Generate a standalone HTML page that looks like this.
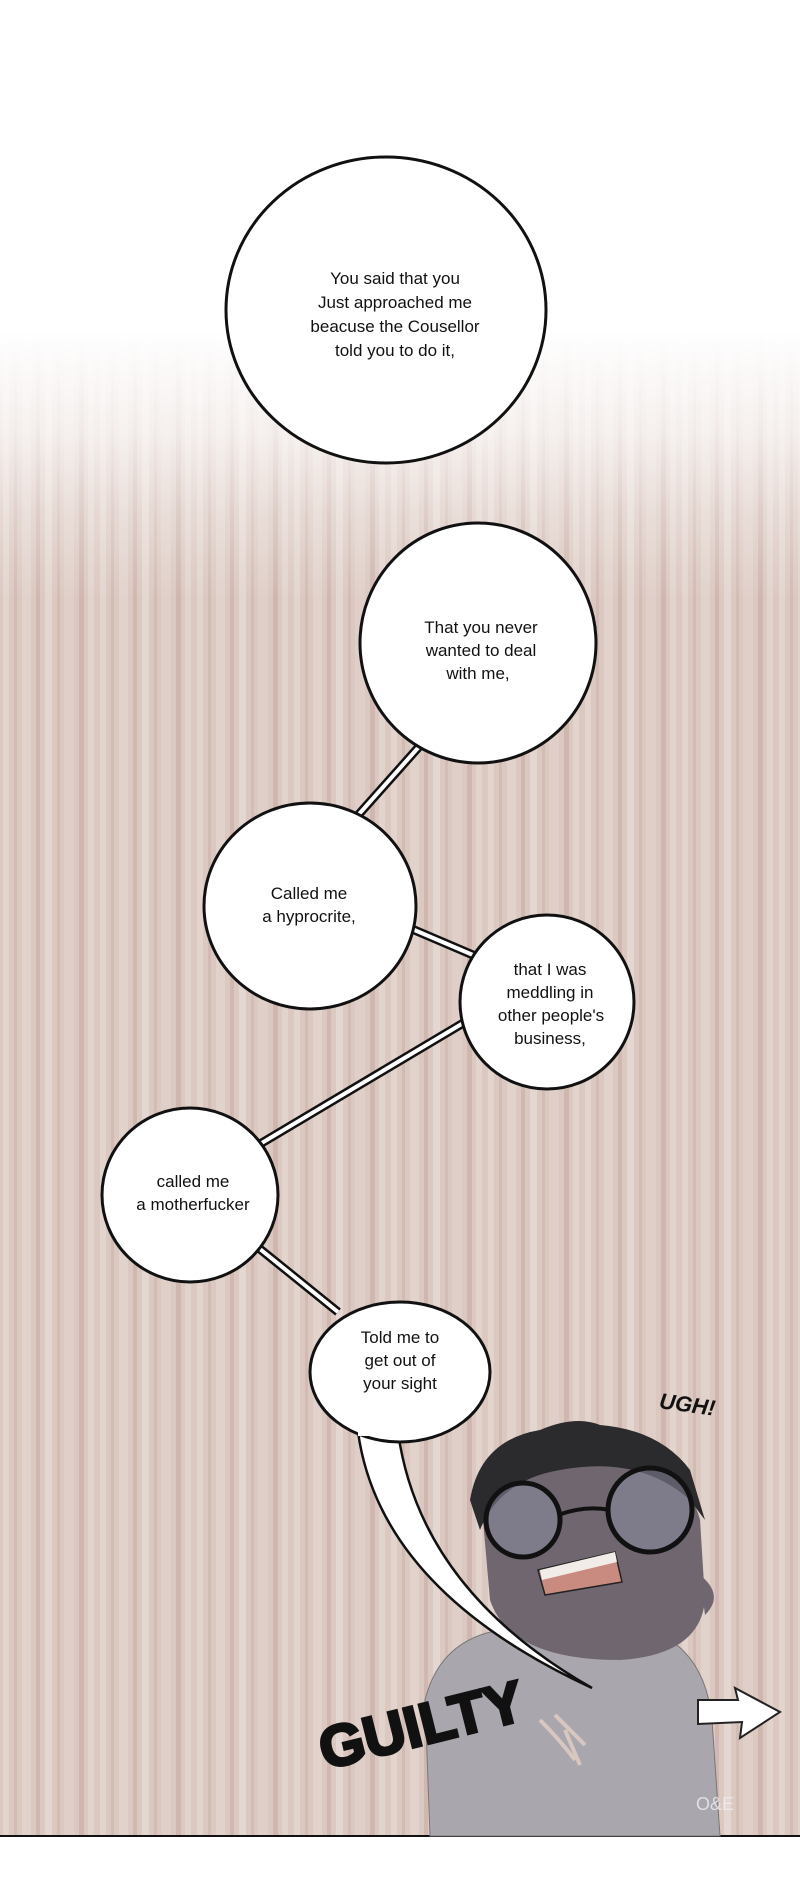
<!DOCTYPE html>
<html><head><meta charset="utf-8"><style>
html,body{margin:0;padding:0;background:#fff;}
#w{position:relative;width:800px;height:1894px;overflow:hidden;}
svg{position:absolute;left:0;top:0;}
text{font-family:"Liberation Sans",sans-serif;font-size:17px;fill:#111;text-anchor:middle;}
</style></head><body><div id="w">
<svg width="800" height="1894" viewBox="0 0 800 1894">
<defs>
<pattern id="st" width="97" height="20" patternUnits="userSpaceOnUse">
<rect width="97" height="20" fill="#dbc8c1"/>
<rect x="3" width="6" height="20" fill="#e3d4ce"/>
<rect x="14" width="3" height="20" fill="#d2bbb3"/>
<rect x="22" width="9" height="20" fill="#e1d2cb"/>
<rect x="36" width="4" height="20" fill="#d0b8b0"/>
<rect x="45" width="7" height="20" fill="#e4d6d0"/>
<rect x="57" width="3" height="20" fill="#d3bcb4"/>
<rect x="64" width="10" height="20" fill="#e0cfc8"/>
<rect x="79" width="5" height="20" fill="#cfb7af"/>
<rect x="88" width="6" height="20" fill="#e2d3cd"/>
</pattern>
<linearGradient id="fade" x1="0" y1="0" x2="0" y2="1">
<stop offset="0" stop-color="#fff" stop-opacity="1"/>
<stop offset="0.55" stop-color="#fff" stop-opacity="1"/>
<stop offset="0.72" stop-color="#fff" stop-opacity="0.7"/>
<stop offset="0.86" stop-color="#fff" stop-opacity="0.3"/>
<stop offset="1" stop-color="#fff" stop-opacity="0"/>
</linearGradient>
</defs>
<rect x="0" y="0" width="800" height="1836" fill="url(#st)"/>
<rect x="0" y="0" width="800" height="600" fill="url(#fade)"/>
<rect x="0" y="1836" width="800" height="58" fill="#fff"/>
<line x1="0" y1="1836" x2="800" y2="1836" stroke="#111" stroke-width="2"/>

<g stroke-linecap="butt">
<g stroke="#111" stroke-width="9">
<line x1="425" y1="740" x2="352" y2="822"/>
<line x1="405" y1="926" x2="480" y2="958"/>
<line x1="470" y1="1019" x2="255" y2="1147"/>
<line x1="255" y1="1245" x2="338" y2="1312"/>
</g>
<g stroke="#fff" stroke-width="4">
<line x1="425" y1="740" x2="352" y2="822"/>
<line x1="405" y1="926" x2="480" y2="958"/>
<line x1="470" y1="1019" x2="255" y2="1147"/>
<line x1="255" y1="1245" x2="338" y2="1312"/>
</g>
</g>

<path d="M430 1836 L425 1700 Q440 1640 500 1630 L650 1630 Q705 1650 712 1720 L720 1836 Z" fill="#aaa6ad" stroke="#777" stroke-width="1"/>
<path d="M483 1520 Q485 1450 560 1445 Q680 1445 700 1520 L705 1600 Q700 1655 620 1660 Q510 1660 490 1600 Z" fill="#6f6670"/>
<path d="M470 1500 Q480 1440 540 1430 Q575 1415 600 1425 Q660 1430 690 1470 L705 1520 L690 1500 Q640 1455 560 1470 Q500 1480 480 1530 Z" fill="#2b2a2c"/>
<circle cx="523" cy="1520" r="37" fill="#8e8fa6" fill-opacity="0.5" stroke="#111" stroke-width="5"/>
<circle cx="650" cy="1510" r="42" fill="#8e8fa6" fill-opacity="0.5" stroke="#111" stroke-width="5"/>
<path d="M558 1515 Q585 1505 610 1510" stroke="#111" stroke-width="4" fill="none"/>
<path d="M538 1570 L615 1552 L622 1582 L545 1595 Z" fill="#c98b80" stroke="#222" stroke-width="1.5"/>
<path d="M540 1570 L615 1552 L617 1562 L542 1580 Z" fill="#f2ece8"/>
<path d="M700 1575 Q725 1595 705 1615" fill="#6f6670"/>
<path d="M540 1720 Q560 1740 575 1760 M555 1715 Q575 1735 585 1745 M565 1730 L580 1765" stroke="#d8c7c0" stroke-width="4" fill="none"/>
<path d="M698 1700 L738 1700 L735 1688 L780 1712 L740 1738 L742 1722 L698 1724 Z" fill="#fff" stroke="#222" stroke-width="2"/>
<text x="688" y="1412" style="font-size:22px;font-weight:bold;font-style:italic" transform="rotate(8 688 1400)">UGH!</text>
<text x="420" y="1745" style="font-size:58px;font-weight:900;fill:#111;stroke:#111;stroke-width:3" transform="rotate(-14 420 1720)">GUILTY</text>
<text x="715" y="1810" style="font-size:18px;fill:#eee;opacity:0.8">O&amp;E</text>

<path d="M358 1432 Q380 1590 592 1688 Q420 1590 398 1432 Z" fill="#fff" stroke="#111" stroke-width="2.5"/>

<g fill="#fff" stroke="#111" stroke-width="3">
<ellipse cx="386" cy="310" rx="160" ry="153"/>
<ellipse cx="478" cy="643" rx="118" ry="120"/>
<ellipse cx="310" cy="906" rx="106" ry="103"/>
<ellipse cx="547" cy="1002" rx="87" ry="87"/>
<ellipse cx="190" cy="1195" rx="88" ry="87"/>
<ellipse cx="400" cy="1372" rx="90" ry="70"/>
</g>
<rect x="358" y="1426" width="40" height="10" fill="#fff"/>

<text x="395" y="284">You said that you</text>
<text x="395" y="308">Just approached me</text>
<text x="395" y="332">beacuse the Cousellor</text>
<text x="395" y="356">told you to do it,</text>

<text x="481" y="633">That you never</text>
<text x="481" y="656">wanted to deal</text>
<text x="478" y="679">with me,</text>

<text x="309" y="899">Called me</text>
<text x="309" y="922">a hyprocrite,</text>

<text x="550" y="975">that I was</text>
<text x="550" y="998">meddling in</text>
<text x="551" y="1021">other people's</text>
<text x="550" y="1044">business,</text>

<text x="193" y="1187">called me</text>
<text x="193" y="1210">a motherfucker</text>

<text x="400" y="1343">Told me to</text>
<text x="400" y="1366">get out of</text>
<text x="400" y="1389">your sight</text>
</svg>
</div></body></html>
